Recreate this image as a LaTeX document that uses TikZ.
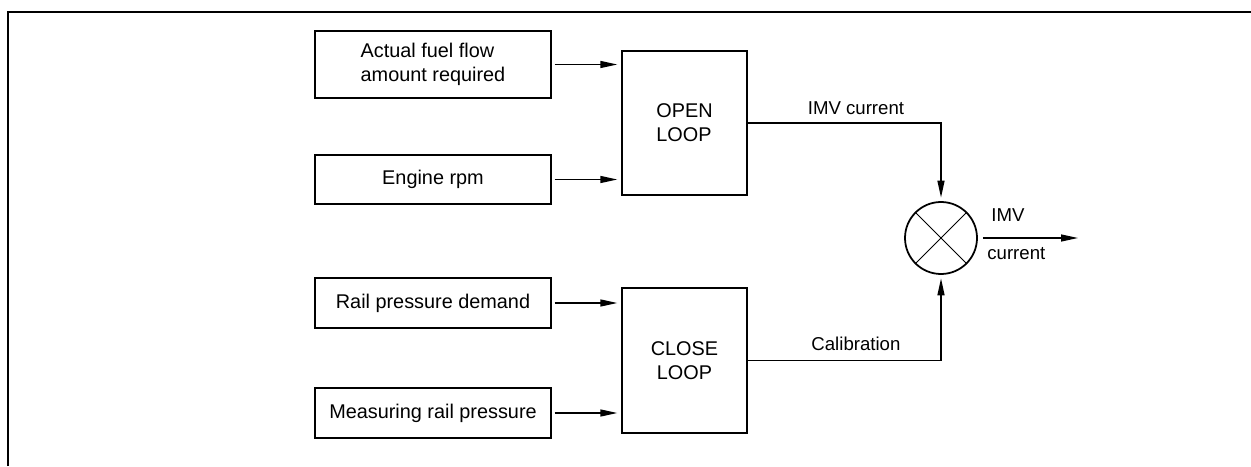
\documentclass[tikz,border=0pt]{standalone}
\usepackage{fontspec}
\setmainfont{Liberation Sans}
\usepackage{tikz}
\usetikzlibrary{arrows.meta,positioning}

\begin{document}
\begin{tikzpicture}[
		inbox/.style={draw, line width=0.8pt, minimum width=4.72cm, align=center, font=\fontsize{11.3}{13.5}\selectfont},
		loopbox/.style={draw, line width=0.8pt, minimum width=2.5cm, minimum height=2.9cm, align=center, font=\fontsize{11.3}{13.5}\selectfont},
		sig/.style={line width=0.8pt, -{Triangle[length=3.4mm,width=1.4mm]}},
		lbl/.style={font=\fontsize{10.6}{12.5}\selectfont, inner sep=0pt}
	]
		\useasboundingbox (0,0) rectangle (25.02,9.32);
		\draw[line width=1.4pt] (0.16,0) -- (0.16,9.08) -- (25.02,9.08);
		% inputs
		\node[inbox, align=left, minimum height=1.34cm] (fuel) at (8.66,8.03) {Actual fuel flow\\amount required};
		\node[inbox, minimum height=0.98cm] (rpm) at (8.66,5.73) {Engine rpm};
		\node[inbox, minimum height=1cm] (demand) at (8.66,3.26) {Rail pressure demand};
		\node[inbox, minimum height=1cm] (measure) at (8.66,1.06) {Measuring rail pressure};
		% loops
		\node[loopbox, align=left, minimum height=2.88cm] (open) at (13.69,6.86) {OPEN\\LOOP};
		\node[loopbox] (close) at (13.69,2.11) {CLOSE\\LOOP};
		\node[circle, draw, line width=1pt, minimum size=1.44cm, inner sep=0pt] (mix) at (18.82,4.56) {};
		\draw[line width=0.5pt] (mix.north west) -- (mix.south east);
		\draw[line width=0.5pt] (mix.south west) -- (mix.north east);
		\coordinate (out) at (21.56,4.56);
		\foreach \a/\b in {fuel/open, rpm/open, demand/close, measure/close}
		\draw[sig, shorten <=0.06cm, shorten >=0.08cm] (\a.east) -- (\a.east -| \b.west);
		\draw[sig, shorten >=0.07cm] (open.east) -| node[lbl, pos=0.28, above=1.6mm] (imvlbl) {IMV current} (mix.north);
		\draw[sig, shorten >=0.07cm] (close.east) -| node[lbl, pos=0.28, above=1.9mm] (callbl) {Calibration} (mix.south);
		\draw[sig, shorten <=0.1cm] (mix.east) -- (out);
		\node[lbl, anchor=base west] (imv) at (19.82,4.89) {IMV};
		\node[lbl, anchor=base west] (cur) at (19.74,4.12) {current};
	\end{tikzpicture}
\end{document}
